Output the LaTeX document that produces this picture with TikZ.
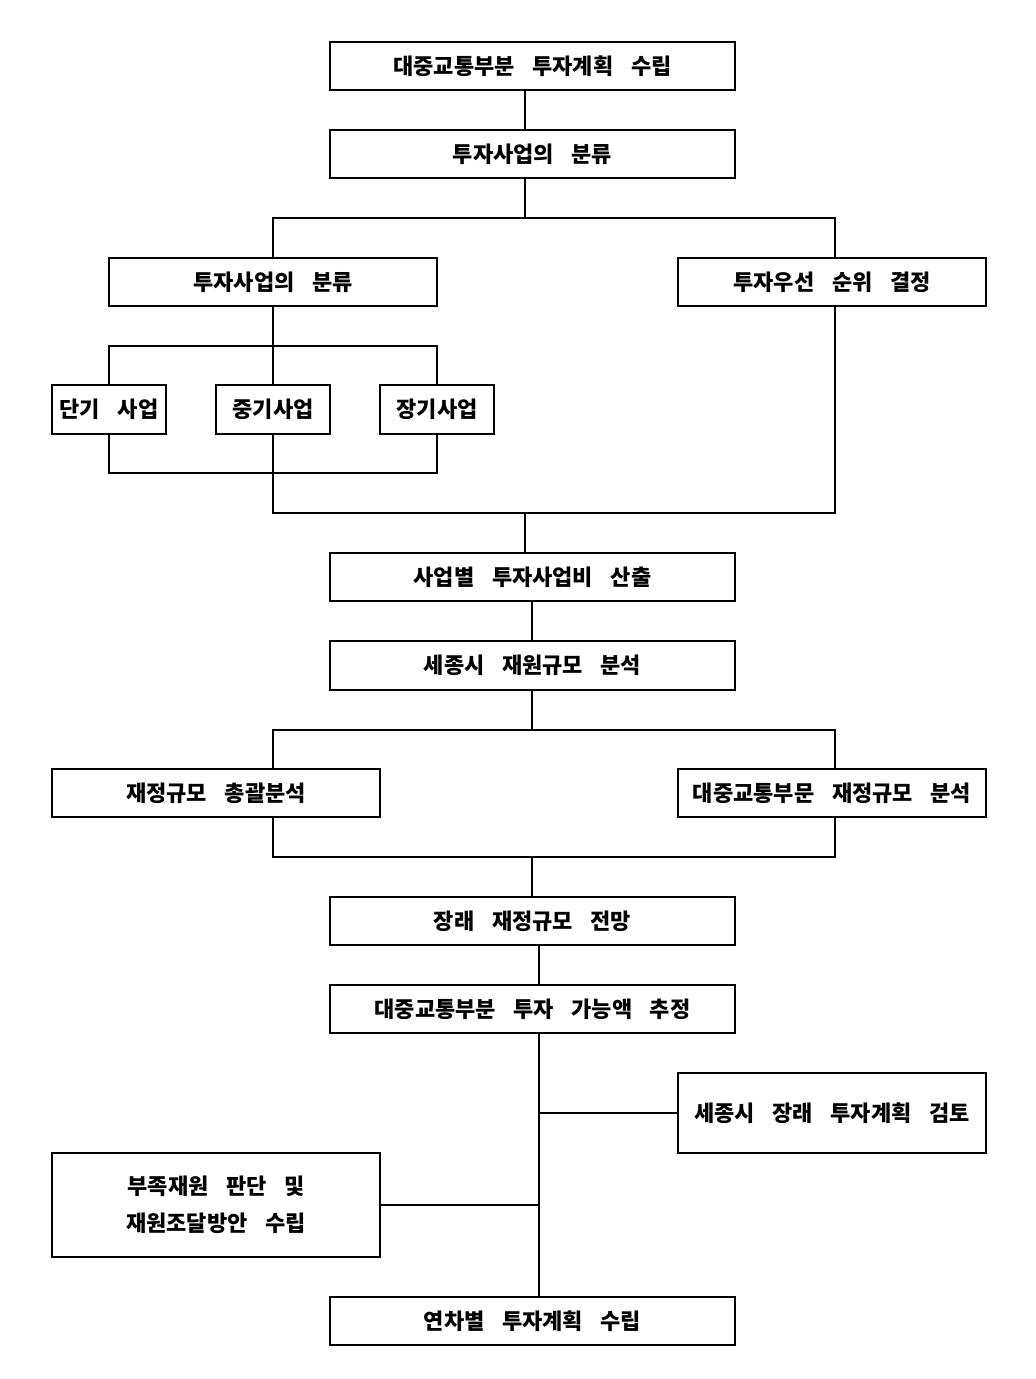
\documentclass[tikz,border=0pt]{standalone}
\usepackage{fontspec}
\setmainfont{Noto Sans CJK KR}
\newcommand\gp{\hspace{0.8em}}
\begin{document}
\begin{tikzpicture}[x=1pt,y=-1pt,
  box/.style={draw,line width=1.2pt,rectangle,inner sep=0pt,align=center,
    font=\fontsize{22}{37}\selectfont\bfseries},
  conn/.style={line width=1.2pt}]
\useasboundingbox (0,0) rectangle (1036,1379);
% nodes
\node[box,minimum width=405,minimum height=48] (b1) at (532.5,66) {대중교통부분\gp{}투자계획\gp{}수립};
\node[box,minimum width=405,minimum height=48] (b2) at (532.5,154) {투자사업의\gp{}분류};
\node[box,minimum width=328,minimum height=48] (b3) at (273,282) {투자사업의\gp{}분류};
\node[box,minimum width=308,minimum height=48] (b4) at (832,282) {투자우선\gp{}순위\gp{}결정};
\node[box,minimum width=114,minimum height=49] (b5) at (109,409.5) {단기\gp{}사업};
\node[box,minimum width=114,minimum height=49] (b6) at (273,409.5) {중기사업};
\node[box,minimum width=114,minimum height=49] (b7) at (437,409.5) {장기사업};
\node[box,minimum width=405,minimum height=48] (b8) at (532.5,577) {사업별\gp{}투자사업비\gp{}산출};
\node[box,minimum width=405,minimum height=49] (b9) at (532.5,665.5) {세종시\gp{}재원규모\gp{}분석};
\node[box,minimum width=328,minimum height=48] (b10) at (216,793) {재정규모\gp{}총괄분석};
\node[box,minimum width=308,minimum height=48] (b11) at (832,793) {대중교통부문\gp{}재정규모\gp{}분석};
\node[box,minimum width=405,minimum height=48] (b12) at (532.5,921) {장래\gp{}재정규모\gp{}전망};
\node[box,minimum width=405,minimum height=48] (b13) at (532.5,1009) {대중교통부분\gp{}투자\gp{}가능액\gp{}추정};
\node[box,minimum width=308,minimum height=80] (b14) at (832,1113) {세종시\gp{}장래\gp{}투자계획\gp{}검토};
\node[box,minimum width=328,minimum height=104] (b15) at (216,1205) {부족재원\gp{}판단\gp{}및\\재원조달방안\gp{}수립};
\node[box,minimum width=405,minimum height=48] (b16) at (532.5,1321) {연차별\gp{}투자계획\gp{}수립};
% junction coordinates
\coordinate (t1) at (525,218);
\coordinate (tl) at (273,218);
\coordinate (tr) at (835,218);
\coordinate (j2) at (273,346);
\coordinate (j2l) at (109,346);
\coordinate (j2r) at (437,346);
\coordinate (j3) at (273,473);
\coordinate (j3l) at (109,473);
\coordinate (j3r) at (437,473);
\coordinate (j4) at (273,513);
\coordinate (j4r) at (835,513);
\coordinate (j5) at (525,513);
\coordinate (m) at (532,700);
\coordinate (L) at (273,730);
\coordinate (R) at (835,730);
\coordinate (L2) at (273,857);
\coordinate (R2) at (835,857);
\coordinate (m2) at (532,857);
\coordinate (s) at (539,965);
% connectors
\draw[conn] (t1 |- b1.south) -- (t1 |- b2.north);
\draw[conn] (t1 |- b2.south) -- (t1);
\draw[conn] (tl |- b3.north) -- (tl) -- (tr) -- (tr |- b4.north);
\draw[conn] (j2 |- b3.south) -- (j2);
\draw[conn] (j2l |- b5.north) -- (j2l) -- (j2r) -- (j2r |- b7.north);
\draw[conn] (j2) -- (j2 |- b6.north);
\draw[conn] (j3l |- b5.south) -- (j3l) -- (j3r) -- (j3r |- b7.south);
\draw[conn] (j3 |- b6.south) -- (j3);
\draw[conn] (j3) -- (j4) -- (j4r) -- (j4r |- b4.south);
\draw[conn] (j5) -- (j5 |- b8.north);
\draw[conn] (m |- b8.south) -- (m |- b9.north);
\draw[conn] (m |- b9.south) -- (m |- L);
\draw[conn] (L |- b10.north) -- (L) -- (R) -- (R |- b11.north);
\draw[conn] (L2 |- b10.south) -- (L2) -- (R2) -- (R2 |- b11.south);
\draw[conn] (m2) -- (m2 |- b12.north);
\draw[conn] (s |- b12.south) -- (s |- b13.north);
\draw[conn] (s |- b13.south) -- (s |- b16.north);
\draw[conn] (b14.west) -- (b14.west -| s);
\draw[conn] (b15.east) -- (b15.east -| s);
\end{tikzpicture}
\end{document}
